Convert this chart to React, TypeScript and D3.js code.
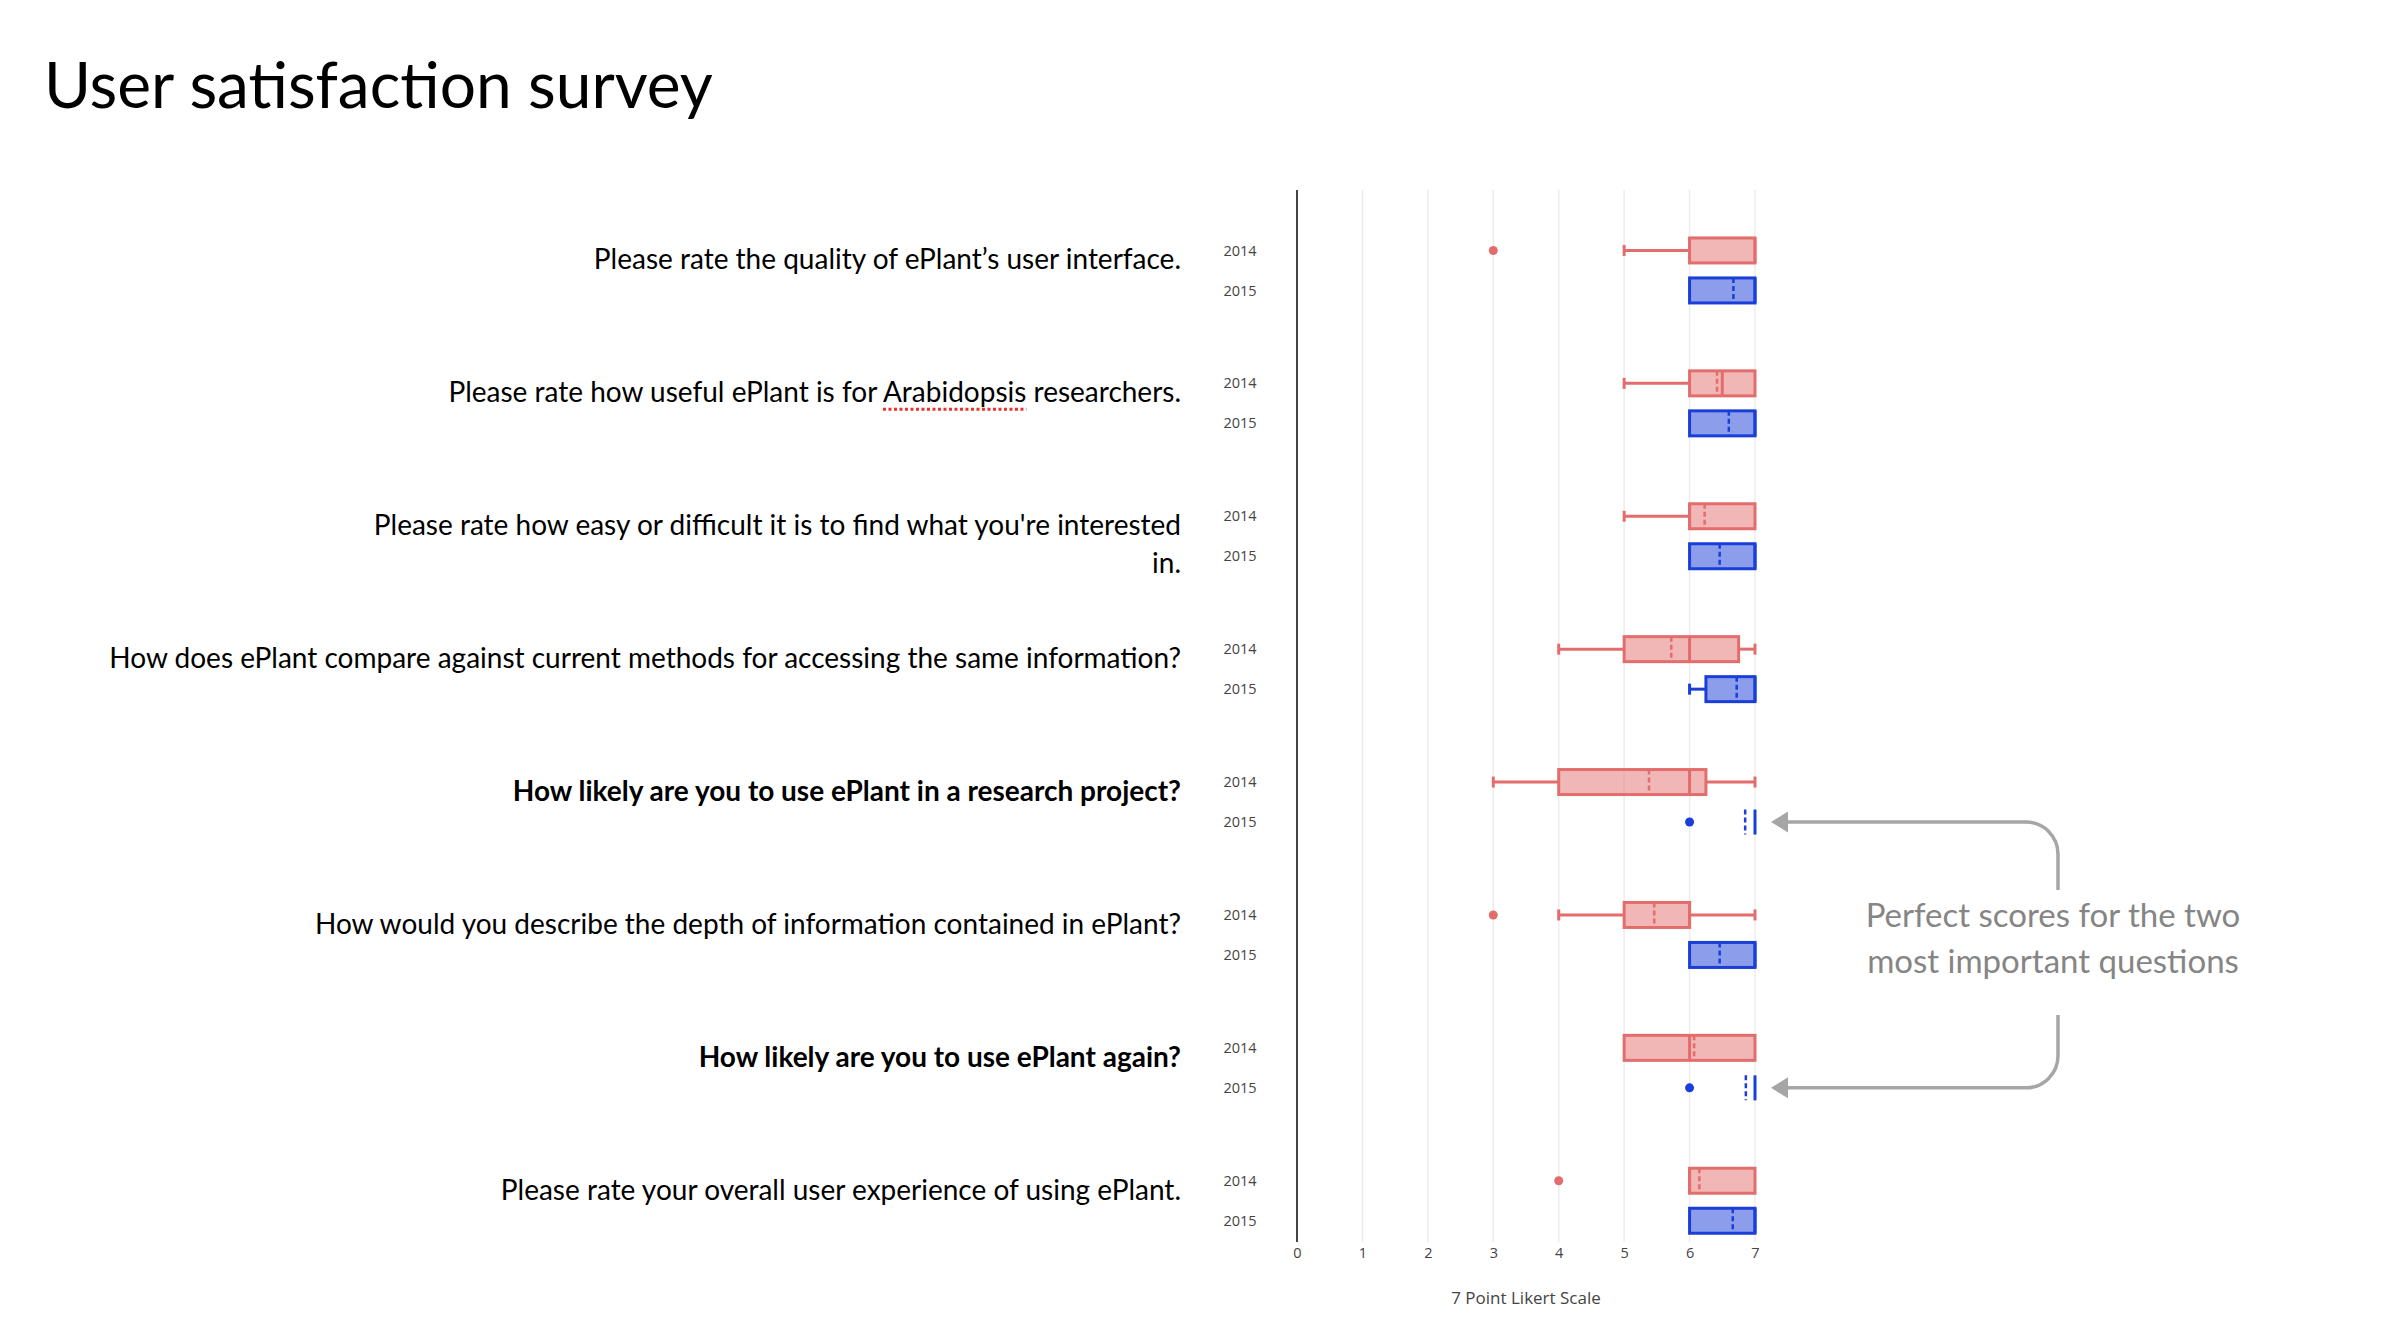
import { useEffect, useRef } from "react";
import * as d3 from "d3";

// ── Data ──────────────────────────────────────────────────────────────────
const questionLines: string[][] = [
  ["Please rate the quality of ePlant’s user interface."],
  ["Please rate how useful ePlant is for Arabidopsis researchers."],
  ["Please rate how easy or difficult it is to find what you're interested", "in."],
  ["How does ePlant compare against current methods for accessing the same information?"],
  ["How likely are you to use ePlant in a research project?"],
  ["How would you describe the depth of information contained in ePlant?"],
  ["How likely are you to use ePlant again?"],
  ["Please rate your overall user experience of using ePlant."],
];
const questionIds = ["q1", "q2", "q3", "q4", "q5", "q6", "q7", "q8"];
const boldQuestions = ["q5", "q7"];
const years = ["2014", "2015"];
const xTicks = [0, 1, 2, 3, 4, 5, 6, 7];

// 2014 box stats, one entry per question
const low2014 = [5, 5, 5, 4, 3, 4, 5, 6];
const q1_2014 = [6, 6, 6, 5, 4, 5, 5, 6];
const med2014 = [7, 6.5, 6, 6, 6, 6, 6, 6];
const q3_2014 = [7, 7, 7, 6.75, 6.25, 6, 7, 7];
const high2014 = [7, 7, 7, 7, 7, 7, 7, 7];
const mean2014 = [6, 6.42, 6.23, 5.72, 5.38, 5.46, 6.07, 6.15];
const out2014 = [[3], [], [], [], [], [3], [], [4]];

// 2015 box stats
const low2015 = [6, 6, 6, 6, 7, 6, 7, 6];
const q1_2015 = [6, 6, 6, 6.25, 7, 6, 7, 6];
const med2015 = [7, 7, 7, 7, 7, 7, 7, 7];
const q3_2015 = [7, 7, 7, 7, 7, 7, 7, 7];
const high2015 = [7, 7, 7, 7, 7, 7, 7, 7];
const mean2015 = [6.67, 6.6, 6.46, 6.72, 6.85, 6.46, 6.86, 6.66];
const out2015 = [[], [], [], [], [6], [], [6], []];

const annotationLines = ["Perfect scores for the two", "most important questions"];
const arrowTargets = ["q5", "q7"]; // 2015 rows

const COLORS: Record<string, string> = { "2014": "#e36d6d", "2015": "#1a3ed8" };

export default function App() {
  const svgRef = useRef<SVGSVGElement>(null);

  useEffect(() => {
    if (!svgRef.current) return;
    const W = 2384;
    const H = 1334;
    const svg = d3.select(svgRef.current);
    svg.selectAll("*").remove();
    svg.attr("viewBox", `0 0 ${W} ${H}`);

    const plotTop = 190;
    const plotBottom = 1242;

    const x = d3.scaleLinear().domain([0, 7]).range([1297, 1755]);
    const yQ = d3.scaleBand<string>().domain(questionIds).range([204, 1267.2]);
    const yYear = d3.scaleBand<string>().domain(years).range([26.45, 106.45]);
    const rowY = (q: string, yr: string) => (yQ(q) ?? 0) + (yYear(yr) ?? 0) + yYear.bandwidth() / 2;
    const qCenter = (q: string) => (yQ(q) ?? 0) + yQ.bandwidth() / 2;

    // ── Title ────────────────────────────────────────────────────────────
    svg.append("text")
      .attr("x", 44)
      .attr("y", 108)
      .attr("font-family", "Lato, sans-serif")
      .attr("font-size", 64)
      .attr("fill", "#000")
      .text("User satisfaction survey");

    // ── Grid + axis line ─────────────────────────────────────────────────
    const g = svg.append("g");
    g.selectAll("line.grid")
      .data(xTicks.slice(1))
      .join("line")
      .attr("class", "grid")
      .attr("x1", (d) => x(d)).attr("x2", (d) => x(d))
      .attr("y1", plotTop).attr("y2", plotBottom)
      .attr("stroke", "#ececec")
      .attr("stroke-width", 1.5);

    g.append("line")
      .attr("x1", x(0)).attr("x2", x(0))
      .attr("y1", plotTop).attr("y2", plotBottom)
      .attr("stroke", "#444")
      .attr("stroke-width", 2);

    g.append("g")
      .attr("transform", `translate(0,${plotBottom})`)
      .call(d3.axisBottom(x).tickValues(xTicks).tickSize(0).tickPadding(6).tickFormat((d) => `${d}`))
      .call((ax) => ax.select(".domain").remove())
      .call((ax) => ax.selectAll("text")
        .attr("fill", "#444")
        .attr("font-size", 14.5)
        .attr("font-family", "'Open Sans', sans-serif"));

    g.append("text")
      .attr("x", (x(0) + x(7)) / 2)
      .attr("y", 1304)
      .attr("text-anchor", "middle")
      .attr("font-family", "'Open Sans', sans-serif")
      .attr("font-size", 17)
      .attr("fill", "#444")
      .text("7 Point Likert Scale");

    // ── Year labels ──────────────────────────────────────────────────────
    questionIds.forEach((q) => {
      years.forEach((yr) => {
        g.append("text")
          .attr("x", 1240)
          .attr("y", rowY(q, yr))
          .attr("dy", "0.35em")
          .attr("text-anchor", "middle")
          .attr("font-family", "'Open Sans', sans-serif")
          .attr("font-size", 14.5)
          .attr("fill", "#444")
          .text(yr);
      });
    });

    // ── Question labels ──────────────────────────────────────────────────
    const labelRight = 1181;
    const underlines: { node: SVGTextElement; word: string; y: number }[] = [];
    questionIds.forEach((q, i) => {
      questionLines[i].forEach((line, j) => {
        const base = qCenter(q) - 1 + j * 38;
        const t = svg.append("text")
          .attr("x", labelRight)
          .attr("y", base)
          .attr("text-anchor", "end")
          .attr("font-family", "Lato, sans-serif")
          .attr("font-size", 28)
          .attr("font-weight", boldQuestions.includes(q) ? 700 : 400)
          .attr("fill", "#000")
          .text(line);
        if (line.includes("Arabidopsis")) {
          underlines.push({ node: t.node() as SVGTextElement, word: "Arabidopsis", y: base + 7 });
        }
      });
    });

    const drawUnderlines = () => {
      underlines.forEach(({ node, word, y }) => {
        const line = node.textContent ?? "";
        const idx = line.indexOf(word);
        const total = node.getComputedTextLength();
        const pre = idx > 0 ? node.getSubStringLength(0, idx) : 0;
        const wlen = node.getSubStringLength(idx, word.length);
        const x0 = labelRight - total + pre;
        svg.append("line")
          .attr("x1", x0).attr("x2", x0 + wlen)
          .attr("y1", y).attr("y2", y)
          .attr("stroke", "#e8332b")
          .attr("stroke-width", 3)
          .attr("stroke-dasharray", "3 2.5");
      });
    };
    if (document.fonts && document.fonts.ready) {
      document.fonts.ready.then(drawUnderlines);
    } else {
      drawUnderlines();
    }

    // ── Boxes ────────────────────────────────────────────────────────────
    const boxH = 25;
    const capH = 11;
    const stats = {
      "2014": { low: low2014, q1: q1_2014, med: med2014, q3: q3_2014, high: high2014, mean: mean2014, out: out2014 },
      "2015": { low: low2015, q1: q1_2015, med: med2015, q3: q3_2015, high: high2015, mean: mean2015, out: out2015 },
    } as const;

    const boxes = svg.append("g");
    years.forEach((yr) => {
      const s = stats[yr as "2014" | "2015"];
      const c = COLORS[yr];
      questionIds.forEach((q, i) => {
        const cy = rowY(q, yr);
        const bg = boxes.append("g");

        // whiskers
        if (s.low[i] < s.q1[i]) {
          bg.append("line")
            .attr("x1", x(s.low[i])).attr("x2", x(s.q1[i]))
            .attr("y1", cy).attr("y2", cy)
            .attr("stroke", c).attr("stroke-width", 3);
          bg.append("line")
            .attr("x1", x(s.low[i])).attr("x2", x(s.low[i]))
            .attr("y1", cy - capH / 2).attr("y2", cy + capH / 2)
            .attr("stroke", c).attr("stroke-width", 3);
        }
        if (s.high[i] > s.q3[i]) {
          bg.append("line")
            .attr("x1", x(s.q3[i])).attr("x2", x(s.high[i]))
            .attr("y1", cy).attr("y2", cy)
            .attr("stroke", c).attr("stroke-width", 3);
          bg.append("line")
            .attr("x1", x(s.high[i])).attr("x2", x(s.high[i]))
            .attr("y1", cy - capH / 2).attr("y2", cy + capH / 2)
            .attr("stroke", c).attr("stroke-width", 3);
        }

        // box
        bg.append("rect")
          .attr("x", x(s.q1[i]))
          .attr("y", cy - boxH / 2)
          .attr("width", Math.max(0, x(s.q3[i]) - x(s.q1[i])))
          .attr("height", boxH)
          .attr("fill", c)
          .attr("fill-opacity", 0.5)
          .attr("stroke", c)
          .attr("stroke-width", 3);

        // median
        bg.append("line")
          .attr("x1", x(s.med[i])).attr("x2", x(s.med[i]))
          .attr("y1", cy - boxH / 2).attr("y2", cy + boxH / 2)
          .attr("stroke", c).attr("stroke-width", 3);

        // mean (dashed)
        bg.append("line")
          .attr("x1", x(s.mean[i])).attr("x2", x(s.mean[i]))
          .attr("y1", cy - boxH / 2).attr("y2", cy + boxH / 2)
          .attr("stroke", c).attr("stroke-width", 2.5)
          .attr("stroke-dasharray", "5 3");

        // outliers
        s.out[i].forEach((v) => {
          bg.append("circle")
            .attr("cx", x(v)).attr("cy", cy)
            .attr("r", 4.5)
            .attr("fill", c);
        });
      });
    });

    // ── Annotation ───────────────────────────────────────────────────────
    const gray = "#a6a6a6";
    const textX = 2053;
    const ann = svg.append("g");
    annotationLines.forEach((l, j) => {
      ann.append("text")
        .attr("x", textX)
        .attr("y", 927 + j * 46)
        .attr("text-anchor", "middle")
        .attr("font-family", "Lato, sans-serif")
        .attr("font-size", 33)
        .attr("fill", "#858585")
        .text(l);
    });

    const vx = 2058;
    const r = 32;
    const tipX = x(7) + 16;
    const headLen = 17;
    const headHalf = 10.5;
    const yA = rowY(arrowTargets[0], "2015");
    const yB = rowY(arrowTargets[1], "2015");

    ann.append("path")
      .attr("d", `M${tipX + headLen},${yA} H${vx - r} A${r},${r} 0 0 1 ${vx},${yA + r} V890`)
      .attr("fill", "none").attr("stroke", gray).attr("stroke-width", 3.5);
    ann.append("path")
      .attr("d", `M${vx},1015 V${yB - r} A${r},${r} 0 0 1 ${vx - r},${yB} H${tipX + headLen}`)
      .attr("fill", "none").attr("stroke", gray).attr("stroke-width", 3.5);
    [yA, yB].forEach((yy) => {
      ann.append("path")
        .attr("d", `M${tipX},${yy} L${tipX + headLen},${yy - headHalf} L${tipX + headLen},${yy + headHalf} Z`)
        .attr("fill", gray);
    });
  }, []);

  return (
    <svg
      ref={svgRef}
      width={2384}
      height={1334}
      style={{ position: "absolute", left: 0, top: 0, background: "#fff" }}
    />
  );
}
